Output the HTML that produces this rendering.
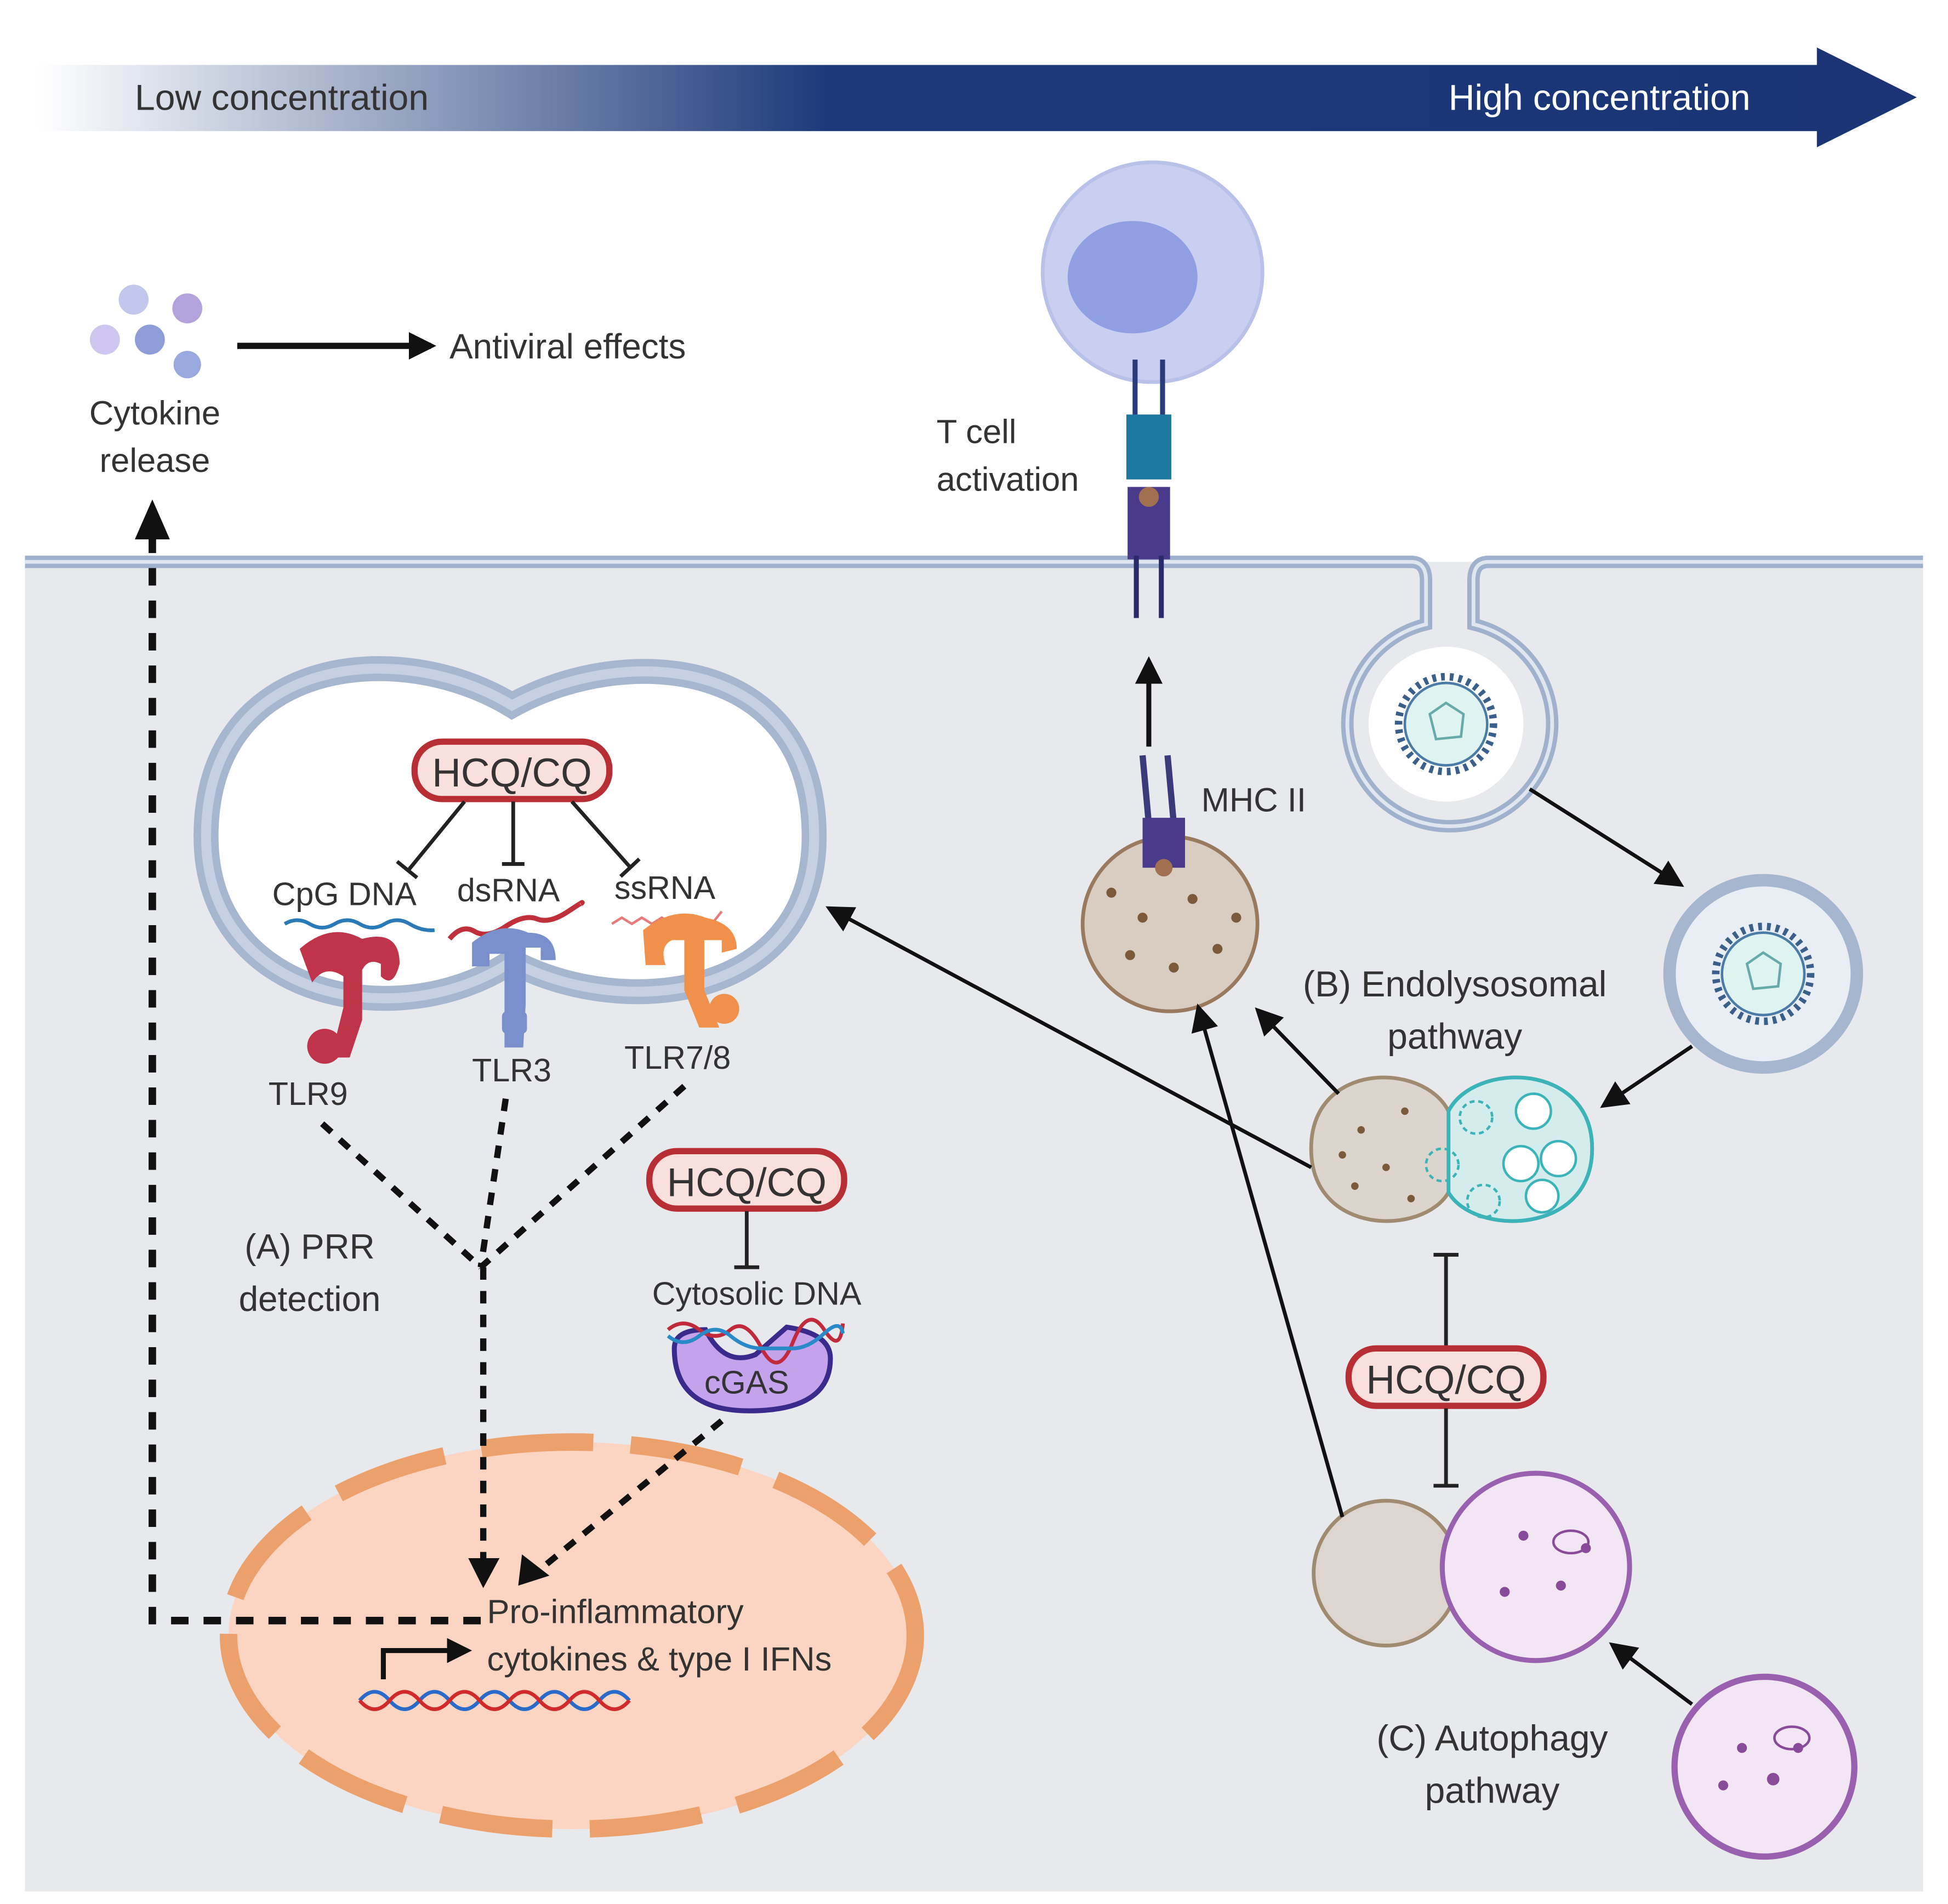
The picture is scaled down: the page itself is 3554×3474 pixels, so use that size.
<!DOCTYPE html>
<html><head><meta charset="utf-8"><style>
html,body{margin:0;padding:0;background:#fff}
svg{display:block}
text{font-family:"Liberation Sans",sans-serif;fill:#333}
</style></head><body>
<svg width="3554" height="3474" viewBox="0 0 1560 1525" preserveAspectRatio="none" xmlns="http://www.w3.org/2000/svg">
<defs>
<linearGradient id="g1" x1="0" x2="1"><stop offset="0" stop-color="#fff"/><stop offset="0.42" stop-color="#1c3a7a"/><stop offset="1" stop-color="#1a3475"/></linearGradient>
<marker id="ahb" viewBox="0 0 10 10" markerWidth="22" markerHeight="22" refX="8" refY="5" orient="auto" markerUnits="userSpaceOnUse"><path d="M0,0 L10,5 L0,10z" fill="#111"/></marker>
</defs>
<rect width="1560" height="1525" fill="#fff"/>
<path d="M30,52 H1455 V38 L1535,78 L1455,118 V105 H30z" fill="url(#g1)"/>
<text x="108" y="88" font-size="29" style="fill:#333">Low concentration</text>
<text x="1160" y="88" font-size="29" style="fill:#fff">High concentration</text>
<rect x="20" y="450" width="1520" height="1065" fill="#e7e9ed"/>
<path d="M20,450 H1130 Q1142,450 1142,465 V500 A82,82 0 1 0 1180,500 V465 Q1180,450 1192,450 H1540" fill="none" stroke="#9fb1cc" stroke-width="10"/>
<path d="M20,450 H1130 Q1142,450 1142,465 V500 A82,82 0 1 0 1180,500 V465 Q1180,450 1192,450 H1540" fill="none" stroke="#dfe6f0" stroke-width="3"/>
<circle cx="1158" cy="580" r="62" fill="#fff"/>
<g id="vir"><circle cx="1158" cy="580" r="38" fill="none" stroke="#3a5f8a" stroke-width="6" stroke-dasharray="3 4"/><circle cx="1158" cy="580" r="33" fill="#dff3f0" stroke="#4b7ca8" stroke-width="2"/><path d="M1145,572 L1158,563 L1172,572 L1170,590 L1150,592z" fill="none" stroke="#6aa" stroke-width="2"/></g>
<circle cx="107" cy="240" r="12" fill="#c2c8ec"/><circle cx="150" cy="247" r="12" fill="#b4a2dc"/><circle cx="84" cy="272" r="12" fill="#cec6ee"/><circle cx="120" cy="272" r="12" fill="#8e9cd8"/><circle cx="150" cy="292" r="11" fill="#9aa8e0"/>
<line x1="190" y1="277" x2="345" y2="277" stroke="#111" stroke-width="5" marker-end="url(#ahb)"/>
<text x="360" y="287" font-size="28">Antiviral effects</text>
<text x="124" y="340" font-size="27" text-anchor="middle">Cytokine</text>
<text x="124" y="378" font-size="27" text-anchor="middle">release</text>
<circle cx="923" cy="218" r="88" fill="#c8cff0" stroke="#b8c2e8" stroke-width="3"/>
<ellipse cx="907" cy="222" rx="52" ry="45" fill="#8f9fe2"/>
<line x1="909" y1="288" x2="909" y2="340" stroke="#2a3a7a" stroke-width="4"/><line x1="931" y1="288" x2="931" y2="340" stroke="#2a3a7a" stroke-width="4"/>
<rect x="902" y="332" width="36" height="52" fill="#1f78a0"/>
<rect x="903" y="390" width="34" height="58" fill="#4a3a8c"/>
<circle cx="920" cy="398" r="8" fill="#a07050"/>
<line x1="910" y1="445" x2="910" y2="495" stroke="#2a2a6a" stroke-width="4"/><line x1="930" y1="445" x2="930" y2="495" stroke="#2a2a6a" stroke-width="4"/>
<text x="750" y="355" font-size="27">T cell</text><text x="750" y="393" font-size="27">activation</text>
<line x1="920" y1="598" x2="920" y2="530" stroke="#111" stroke-width="4" marker-end="url(#ahb)"/>
<circle cx="937" cy="740" r="70" fill="#d9cdc2" stroke="#9a7a5e" stroke-width="3"/>
<g fill="#7a5a3a"><circle cx="915" cy="735" r="4"/><circle cx="955" cy="720" r="4"/><circle cx="905" cy="765" r="4"/><circle cx="940" cy="775" r="4"/><circle cx="975" cy="760" r="4"/><circle cx="890" cy="715" r="4"/><circle cx="990" cy="735" r="4"/></g>
<line x1="915" y1="605" x2="920" y2="660" stroke="#3a3a7a" stroke-width="5"/><line x1="935" y1="605" x2="940" y2="660" stroke="#3a3a7a" stroke-width="5"/>
<rect x="915" y="655" width="34" height="40" fill="#4a3a8c"/>
<circle cx="932" cy="695" r="7" fill="#a07050"/>
<text x="962" y="650" font-size="27">MHC II</text>
<path d="M165,670 C165,525 320,510 410,565 C500,515 652,525 652,670 C652,800 500,818 410,770 C320,830 165,800 165,670z" fill="#fff" stroke="#a6b6cf" stroke-width="20"/>
<path d="M165,670 C165,525 320,510 410,565 C500,515 652,525 652,670 C652,800 500,818 410,770 C320,830 165,800 165,670z" fill="none" stroke="#c5d0e2" stroke-width="8"/>
<rect x="332" y="594" width="156" height="46" rx="22" fill="#f9e0dc" stroke="#b82e35" stroke-width="5"/>
<text x="410" y="630" font-size="32" text-anchor="middle">HCQ/CQ</text>
<g stroke="#222" stroke-width="3"><line x1="372" y1="642" x2="327" y2="697"/><line x1="318" y1="690" x2="334" y2="703"/><line x1="411" y1="642" x2="411" y2="692"/><line x1="402" y1="692" x2="420" y2="692"/><line x1="458" y1="642" x2="505" y2="695"/><line x1="497" y1="702" x2="512" y2="688"/></g>
<text x="218" y="725" font-size="26">CpG DNA</text><text x="366" y="722" font-size="26">dsRNA</text><text x="492" y="720" font-size="26">ssRNA</text>
<path d="M228,740 q10,-6 20,0 t20,0 t20,0 t20,0 t20,0 t20,5" fill="none" stroke="#2a7ab8" stroke-width="3"/>
<path d="M360,752 q10,-12 20,-6 t25,-4 t25,-6 t25,-6 t10,-6" fill="none" stroke="#c0303a" stroke-width="4"/>
<path d="M490,740 l8,-5 l8,5 l8,-5 l8,5 l8,-5 l8,5 l8,-5 l8,5 l8,-5 l8,5 l8,-10" fill="none" stroke="#e87a7a" stroke-width="2"/>
<g fill="#c0344a"><path d="M240,760 q25,-22 50,-8 q30,-8 30,20 q-5,20 -15,10 v-10 q-10,-5 -15,5 v40 l-10,30 h-15 l10,-40 v-25 q-15,-10 -25,5z"/><circle cx="260" cy="838" r="14"/></g>
<g fill="#7a90cc"><path d="M378,755 q22,-18 45,-8 q22,0 22,22 h-12 v-10 h-12 v45 l-2,35 h-15 v-35 v-40 h-12 v10 h-14z"/><rect x="402" y="810" width="20" height="18" rx="4"/></g>
<g fill="#f0904a"><path d="M515,745 q25,-20 50,-10 q25,5 25,25 l-12,3 v-10 h-14 v40 l12,30 h-16 l-12,-30 v-40 h-10 q-10,5 -5,20 h-16z"/><circle cx="580" cy="808" r="12"/></g>
<text x="215" y="885" font-size="26">TLR9</text><text x="378" y="866" font-size="26">TLR3</text><text x="500" y="856" font-size="26">TLR7/8</text>
<!-- nucleus (drawn before dashed lines) -->
<ellipse cx="458" cy="1310" rx="275" ry="155" fill="#fbd5c2"/>
<ellipse cx="458" cy="1310" rx="275" ry="155" fill="none" stroke="#eca06c" stroke-width="14" stroke-dasharray="90 30"/>
<g stroke="#111" stroke-width="5" stroke-dasharray="10 9" fill="none">
<line x1="258" y1="900" x2="385" y2="1015"/><line x1="405" y1="880" x2="385" y2="1015"/><line x1="548" y1="870" x2="385" y2="1015"/>
<line x1="387" y1="1015" x2="387" y2="1250"/><line x1="578" y1="1138" x2="435" y2="1255"/>
</g>
<path d="M375,1248 L400,1248 L387,1272z" fill="#111"/><path d="M418,1245 L440,1262 L415,1270z" fill="#111"/>
<text x="248" y="1008" font-size="28" text-anchor="middle">(A) PRR</text><text x="248" y="1050" font-size="28" text-anchor="middle">detection</text>
<rect x="520" y="922" width="156" height="46" rx="22" fill="#f9e0dc" stroke="#b82e35" stroke-width="5"/>
<text x="598" y="958" font-size="32" text-anchor="middle">HCQ/CQ</text>
<line x1="598" y1="970" x2="598" y2="1015" stroke="#222" stroke-width="3"/><line x1="588" y1="1015" x2="608" y2="1015" stroke="#222" stroke-width="3"/>
<text x="606" y="1045" font-size="26" text-anchor="middle">Cytosolic DNA</text>
<path d="M540,1080 q0,-15 25,-15 q15,30 40,20 l25,-22 q35,5 35,25 q0,42 -65,42 q-60,0 -60,-50z" fill="#c4a2ec" stroke="#3a2a8c" stroke-width="4"/>
<path d="M535,1065 q12,-10 25,0 t25,0 t25,15 t25,-5 t25,-10 t15,-5" fill="none" stroke="#c02a3a" stroke-width="3"/>
<path d="M535,1070 q12,10 25,0 t25,0 t25,10 t25,0 t25,-12 t15,0" fill="none" stroke="#2a8ac8" stroke-width="3"/>
<text x="598" y="1116" font-size="26" text-anchor="middle">cGAS</text>
<text x="390" y="1300" font-size="27">Pro-inflammatory</text>
<text x="390" y="1338" font-size="27">cytokines &amp; type I IFNs</text>
<path d="M307,1345 V1322 H360" fill="none" stroke="#111" stroke-width="4"/><path d="M358,1312 L378,1322 L358,1332z" fill="#111"/>
<path d="M288,1362 q12,-14 24,0 t24,0 t24,0 t24,0 t24,0 t24,0 t24,0 t24,0 t24,0" fill="none" stroke="#2a6ac8" stroke-width="3"/>
<path d="M288,1362 q12,14 24,0 t24,0 t24,0 t24,0 t24,0 t24,0 t24,0 t24,0 t24,0" fill="none" stroke="#d02a2a" stroke-width="3"/>
<path d="M385,1298 H122 V420" fill="none" stroke="#111" stroke-width="6" stroke-dasharray="14 12"/>
<path d="M108,432 L122,400 L136,432z" fill="#111"/>
<circle cx="1412" cy="780" r="75" fill="#e8eef4" stroke="#a6b6cf" stroke-width="10"/>
<use href="#vir" transform="translate(254,200)"/>
<line x1="1225" y1="632" x2="1345" y2="708" stroke="#111" stroke-width="3" marker-end="url(#ahb)"/>
<line x1="1355" y1="838" x2="1285" y2="885" stroke="#111" stroke-width="3" marker-end="url(#ahb)"/>
<path d="M1050,920 C1050,850 1140,850 1160,890 C1180,850 1275,850 1275,920 C1275,990 1180,990 1160,955 C1140,990 1050,990 1050,920z" fill="#dcd5ce" stroke="#a08a70" stroke-width="3"/>
<path d="M1160,890 C1180,850 1275,850 1275,920 C1275,990 1180,990 1160,955z" fill="#d4ecec" stroke="#3ab4b8" stroke-width="3"/>
<g fill="#fff" stroke="#3ab4b8" stroke-width="2"><circle cx="1228" cy="890" r="14"/><circle cx="1218" cy="932" r="14"/><circle cx="1248" cy="928" r="14"/><circle cx="1235" cy="958" r="13"/></g>
<g fill="none" stroke="#3ab4b8" stroke-width="2" stroke-dasharray="4 3"><circle cx="1182" cy="895" r="13"/><circle cx="1155" cy="933" r="13"/><circle cx="1188" cy="962" r="13"/></g>
<g fill="#7a5a3a"><circle cx="1090" cy="905" r="3"/><circle cx="1125" cy="890" r="3"/><circle cx="1075" cy="925" r="3"/><circle cx="1110" cy="935" r="3"/><circle cx="1085" cy="950" r="3"/><circle cx="1130" cy="960" r="3"/></g>
<text x="1165" y="798" font-size="29" text-anchor="middle">(B) Endolysosomal</text>
<text x="1165" y="840" font-size="29" text-anchor="middle">pathway</text>
<line x1="1050" y1="935" x2="665" y2="728" stroke="#111" stroke-width="3" marker-end="url(#ahb)"/>
<line x1="1072" y1="876" x2="1008" y2="810" stroke="#111" stroke-width="3" marker-end="url(#ahb)"/>
<line x1="1158" y1="1005" x2="1158" y2="1080" stroke="#222" stroke-width="3"/><line x1="1148" y1="1005" x2="1168" y2="1005" stroke="#222" stroke-width="3"/>
<rect x="1080" y="1080" width="156" height="46" rx="22" fill="#f9e0dc" stroke="#b82e35" stroke-width="5"/>
<text x="1158" y="1116" font-size="32" text-anchor="middle">HCQ/CQ</text>
<line x1="1158" y1="1128" x2="1158" y2="1190" stroke="#222" stroke-width="3"/><line x1="1148" y1="1190" x2="1168" y2="1190" stroke="#222" stroke-width="3"/>
<circle cx="1110" cy="1260" r="58" fill="#ddd6d0" stroke="#a08a70" stroke-width="3"/>
<circle cx="1230" cy="1255" r="75" fill="#f2e6f4" stroke="#9a60b0" stroke-width="4"/>
<g fill="#8a4a9a"><circle cx="1220" cy="1230" r="4"/><circle cx="1250" cy="1270" r="4"/><circle cx="1205" cy="1275" r="4"/><circle cx="1270" cy="1240" r="4"/></g>
<ellipse cx="1258" cy="1235" rx="14" ry="9" fill="none" stroke="#8a4a9a" stroke-width="2"/>
<line x1="1075" y1="1215" x2="960" y2="808" stroke="#111" stroke-width="3" marker-end="url(#ahb)"/>
<line x1="1355" y1="1365" x2="1292" y2="1318" stroke="#111" stroke-width="3" marker-end="url(#ahb)"/>
<circle cx="1413" cy="1415" r="72" fill="#f2e6f4" stroke="#9a60b0" stroke-width="5"/>
<g fill="#8a4a9a"><circle cx="1395" cy="1400" r="4"/><circle cx="1420" cy="1425" r="5"/><circle cx="1380" cy="1430" r="4"/><circle cx="1440" cy="1400" r="4"/></g>
<ellipse cx="1435" cy="1392" rx="14" ry="9" fill="none" stroke="#8a4a9a" stroke-width="2"/>
<text x="1195" y="1402" font-size="29" text-anchor="middle">(C) Autophagy</text>
<text x="1195" y="1444" font-size="29" text-anchor="middle">pathway</text>
</svg>
</body></html>
